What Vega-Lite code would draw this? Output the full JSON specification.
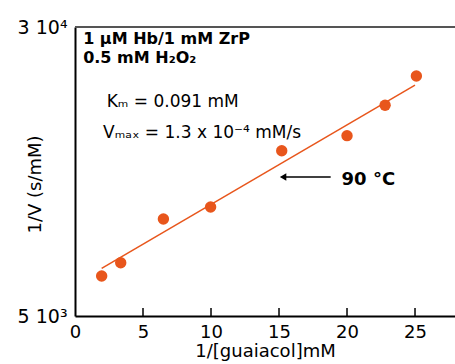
{
  "$schema": "https://vega.github.io/schema/vega-lite/v6.json",
  "autosize": {"type": "none"},
  "padding": {"left": 75, "top": 27, "right": 0, "bottom": 48},
  "width": 380,
  "height": 289,
  "background": "white",
  "config": {
    "view": {"stroke": null},
    "font": "DejaVu Sans"
  },
  "datasets": {
    "points": [
      {"inv_s": 1.96, "inv_v": 8460},
      {"inv_s": 3.36, "inv_v": 9611},
      {"inv_s": 6.5, "inv_v": 13391},
      {"inv_s": 9.97, "inv_v": 14430},
      {"inv_s": 15.2, "inv_v": 19300},
      {"inv_s": 20.0, "inv_v": 20600},
      {"inv_s": 22.8, "inv_v": 23225},
      {"inv_s": 25.1, "inv_v": 25760}
    ],
    "fit": [
      {"inv_s": 1.96, "inv_v": 9127},
      {"inv_s": 25.0, "inv_v": 24980}
    ],
    "ticks": [
      {"tick": 5}, {"tick": 10}, {"tick": 15}, {"tick": 20}, {"tick": 25}
    ],
    "notes": [
      {"label": "1 μM Hb/1 mM ZrP"}
    ]
  },
  "layer": [
    {
      "data": {"name": "points"},
      "mark": {"type": "point", "filled": true, "shape": "circle", "color": "#E8561C", "size": 130, "opacity": 1},
      "encoding": {
        "x": {
          "field": "inv_s", "type": "quantitative",
          "scale": {"domain": [0, 27.94], "nice": false, "zero": false},
          "axis": {
            "title": "1/[guaiacol]mM",
            "values": [0, 5, 10, 15, 20, 25],
            "grid": false, "ticks": false,
            "domainColor": "black", "domainWidth": 2,
            "labelFont": "DejaVu Sans", "labelFontSize": 18, "labelColor": "black",
            "labelPadding": 7, "labelFlush": false,
            "titleFont": "DejaVu Sans", "titleFontSize": 18, "titleFontWeight": "normal", "titleColor": "black",
            "titlePadding": 1
          }
        },
        "y": {
          "field": "inv_v", "type": "quantitative",
          "scale": {"domain": [5000, 30000], "nice": false, "zero": false},
          "axis": {
            "title": "1/V (s/mM)",
            "values": [5000, 30000],
            "grid": false, "ticks": false,
            "domainColor": "black", "domainWidth": 2,
            "labelExpr": "datum.value == 5000 ? '5 10³' : '3 10⁴'",
            "labelFont": "DejaVu Sans", "labelFontSize": 19, "labelColor": "black",
            "labelPadding": 8, "labelFlush": false,
            "titleFont": "DejaVu Sans", "titleFontSize": 18, "titleFontWeight": "normal", "titleColor": "black",
            "titleX": -40, "titleY": 157, "titleBaseline": "middle", "titleAngle": -90
          }
        }
      }
    },
    {
      "data": {"name": "fit"},
      "mark": {"type": "line", "color": "#E8561C", "strokeWidth": 1.5},
      "encoding": {
        "x": {"field": "inv_s", "type": "quantitative"},
        "y": {"field": "inv_v", "type": "quantitative"}
      }
    },
    {
      "data": {"name": "ticks"},
      "mark": {"type": "rule", "color": "black", "strokeWidth": 1.5},
      "encoding": {
        "x": {"field": "tick", "type": "quantitative"},
        "y": {"datum": 5000},
        "y2": {"datum": 5700}
      }
    },
    {
      "data": {"name": "notes"},
      "mark": {"type": "rule", "color": "#555555", "strokeWidth": 2},
      "encoding": {"y": {"datum": 30000}}
    },
    {
      "data": {"name": "notes"},
      "mark": {"type": "text", "text": "1 μM Hb/1 mM ZrP", "align": "left", "baseline": "middle", "font": "DejaVu Sans", "fontWeight": "bold", "fontSize": 16, "color": "black"},
      "encoding": {"x": {"datum": 0.6}, "y": {"datum": 28950}}
    },
    {
      "data": {"name": "notes"},
      "mark": {"type": "text", "text": "0.5 mM H₂O₂", "align": "left", "baseline": "middle", "font": "DejaVu Sans", "fontWeight": "bold", "fontSize": 16, "color": "black"},
      "encoding": {"x": {"datum": 0.6}, "y": {"datum": 27330}}
    },
    {
      "data": {"name": "notes"},
      "mark": {"type": "text", "text": "Kₘ = 0.091 mM", "align": "left", "baseline": "middle", "font": "DejaVu Sans", "fontSize": 17, "color": "black"},
      "encoding": {"x": {"datum": 2.33}, "y": {"datum": 23537}}
    },
    {
      "data": {"name": "notes"},
      "mark": {"type": "text", "text": "Vₘₐₓ = 1.3 x 10⁻⁴ mM/s", "align": "left", "baseline": "middle", "font": "DejaVu Sans", "fontSize": 17, "color": "black"},
      "encoding": {"x": {"datum": 2.06}, "y": {"datum": 20830}}
    },
    {
      "data": {"name": "notes"},
      "mark": {"type": "text", "text": "90 °C", "align": "left", "baseline": "middle", "font": "DejaVu Sans", "fontWeight": "bold", "fontSize": 18, "color": "black"},
      "encoding": {"x": {"datum": 19.6}, "y": {"datum": 16764}}
    },
    {
      "data": {"name": "notes"},
      "mark": {"type": "rule", "color": "black", "strokeWidth": 1.5},
      "encoding": {"x": {"datum": 15.3}, "x2": {"datum": 18.8}, "y": {"datum": 17023}}
    },
    {
      "data": {"name": "notes"},
      "mark": {"type": "point", "shape": "triangle-left", "filled": true, "color": "black", "size": 55, "opacity": 1},
      "encoding": {"x": {"datum": 15.3}, "y": {"datum": 17023}}
    }
  ]
}
